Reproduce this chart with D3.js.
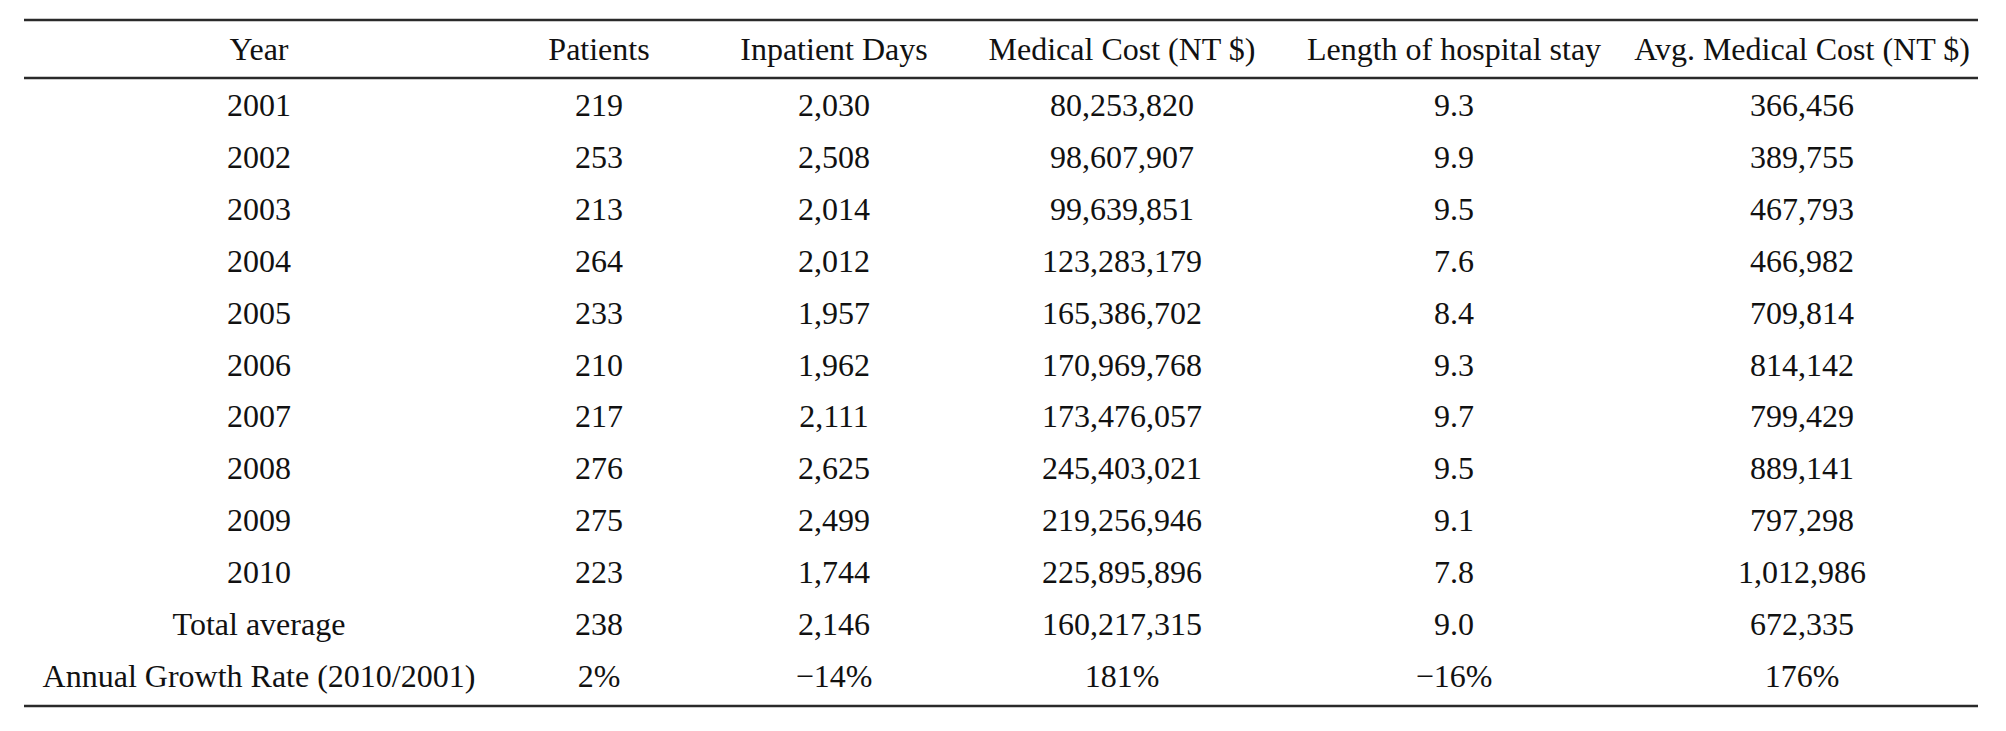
<!DOCTYPE html>
<html>
<head>
<meta charset="utf-8">
<script src="https://cdn.jsdelivr.net/npm/d3@7"></script>
<style>
  html, body { margin: 0; padding: 0; background: #fff; }
  svg { display: block; }
  .cell { font-family: "Liberation Serif", "Times New Roman", serif; font-size: 32px; fill: #111; }
  .rule { stroke: #2a2a2a; stroke-width: 2.4px; }
</style>
</head>
<body>
<svg id="table"></svg>
<script>
// table content
const headers = ["Year", "Patients", "Inpatient Days", "Medical Cost (NT $)", "Length of hospital stay", "Avg. Medical Cost (NT $)"];
const rowLabels = ["2001", "2002", "2003", "2004", "2005", "2006", "2007", "2008", "2009", "2010", "Total average", "Annual Growth Rate (2010/2001)"];
const patients = ["219", "253", "213", "264", "233", "210", "217", "276", "275", "223", "238", "2%"];
const inpatientDays = ["2,030", "2,508", "2,014", "2,012", "1,957", "1,962", "2,111", "2,625", "2,499", "1,744", "2,146", "\u221214%"];
const medicalCost = ["80,253,820", "98,607,907", "99,639,851", "123,283,179", "165,386,702", "170,969,768", "173,476,057", "245,403,021", "219,256,946", "225,895,896", "160,217,315", "181%"];
const stayLength = ["9.3", "9.9", "9.5", "7.6", "8.4", "9.3", "9.7", "9.5", "9.1", "7.8", "9.0", "\u221216%"];
const avgCost = ["366,456", "389,755", "467,793", "466,982", "709,814", "814,142", "799,429", "889,141", "797,298", "1,012,986", "672,335", "176%"];

const width = 2006, height = 731;
const left = 24, right = 1978;

const svg = d3.select("#table")
    .attr("width", width)
    .attr("height", height);

// column centres (not evenly spaced, like the typeset original)
const xScale = d3.scaleOrdinal()
    .domain(headers)
    .range([259, 599, 834, 1122, 1454, 1802]);

// text baselines of the body rows
const yScale = d3.scalePoint()
    .domain(rowLabels)
    .range([116, 687]);

const headerY = 60;

// horizontal rules: top, under header, bottom
svg.selectAll(".rule")
    .data([20, 78, 706])
    .join("line")
    .attr("class", "rule")
    .attr("x1", left)
    .attr("x2", right)
    .attr("y1", d => d)
    .attr("y2", d => d);

// header row
svg.selectAll(".head")
    .data(headers)
    .join("text")
    .attr("class", "cell head")
    .attr("x", d => xScale(d))
    .attr("y", headerY)
    .attr("text-anchor", "middle")
    .text(d => d);

// body cells, one column at a time
const columns = [rowLabels, patients, inpatientDays, medicalCost, stayLength, avgCost];
const cells = [];
columns.forEach((col, ci) => {
  col.forEach((v, ri) => cells.push({col: headers[ci], row: rowLabels[ri], value: v}));
});

svg.selectAll(".body")
    .data(cells)
    .join("text")
    .attr("class", "cell body")
    .attr("x", d => xScale(d.col))
    .attr("y", d => yScale(d.row))
    .attr("text-anchor", "middle")
    .text(d => d.value);
</script>
</body>
</html>
